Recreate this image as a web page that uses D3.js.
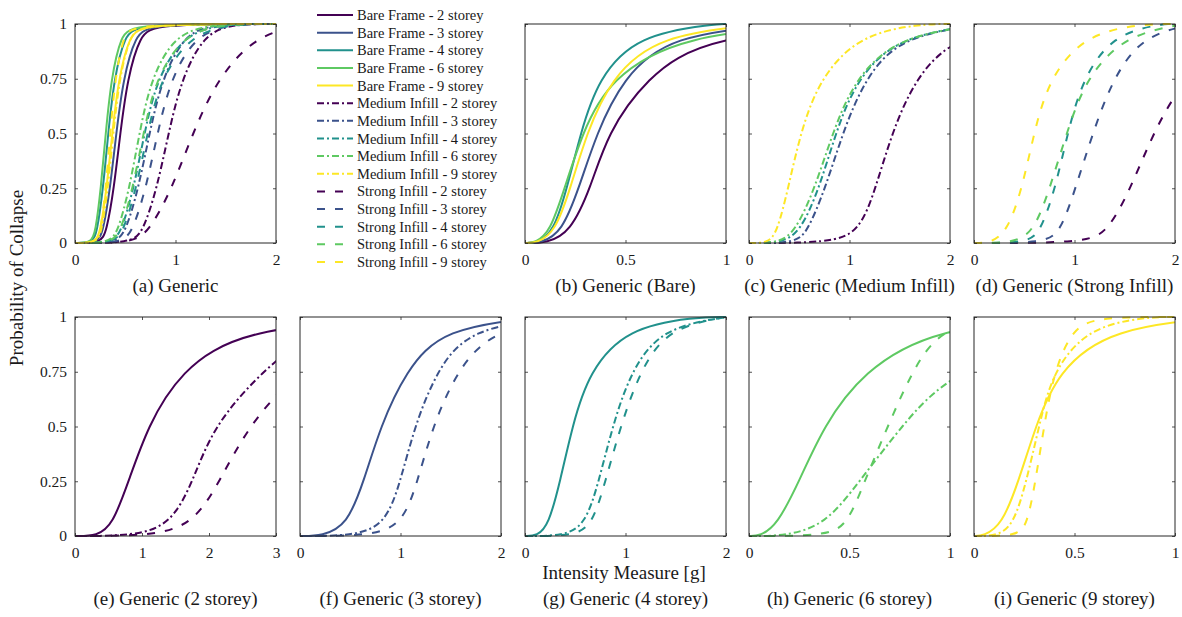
<!DOCTYPE html>
<html>
<head>
<meta charset="utf-8">
<script src="https://cdn.jsdelivr.net/npm/d3@7"></script>
<style>
  body { margin: 0; background: #fff; }
  svg { display: block; }
  text { font-family: "Liberation Serif", "Times New Roman", serif; fill: #1a1a1a; }
</style>
</head>
<body>
<script>
// probability levels at which each curve's x position was read off the figure
// (first = where the curve leaves 0, last = where it reaches 1)
const probLevels = [0, 0.05, 0.25, 0.5, 0.75, 0.95, 1];
const yTicks = [0, 0.25, 0.5, 0.75, 1];

const storeyLabels = ["2", "3", "4", "6", "9"];
const typeNames = ["Bare Frame", "Medium Infill", "Strong Infill"];
const storeyColors = ["#440154", "#3b528b", "#21918c", "#5ec962", "#fde725"];
const typeDash = [null, "7,3,2,3", "8,10"];

// (a) all 15 curves: bare 2..9, medium 2..9, strong 2..9
const curvesA = [
  [0.254, 0.313, 0.388, 0.45, 0.522, 0.646, 0.80],
  [0.224, 0.279, 0.350, 0.41, 0.480, 0.601, 0.75],
  [0.174, 0.220, 0.280, 0.33, 0.389, 0.494, 0.63],
  [0.161, 0.204, 0.258, 0.305, 0.360, 0.457, 0.58],
  [0.202, 0.252, 0.316, 0.37, 0.433, 0.543, 0.68],
  [0.561, 0.675, 0.816, 0.93, 1.060, 1.281, 1.55],
  [0.404, 0.504, 0.632, 0.74, 0.866, 1.086, 1.36],
  [0.364, 0.461, 0.585, 0.69, 0.814, 1.08, 1.45],
  [0.338, 0.427, 0.542, 0.64, 0.755, 0.99, 1.35],
  [0.214, 0.265, 0.328, 0.38, 0.441, 0.546, 0.67],
  [0.561, 0.735, 0.967, 1.17, 1.416, 1.80, 2.3],
  [0.462, 0.571, 0.707, 0.82, 0.951, 1.20, 1.55],
  [0.380, 0.481, 0.610, 0.72, 0.850, 1.15, 1.55],
  [0.359, 0.454, 0.576, 0.68, 0.802, 1.08, 1.45],
  [0.211, 0.254, 0.307, 0.35, 0.399, 0.482, 0.58]
];
// (b) bare frames
const curvesB = [
  [0.11, 0.226, 0.326, 0.41, 0.60, 0.90, 1.8],
  [0.08, 0.184, 0.268, 0.356, 0.485, 0.72, 1.3],
  [0.06, 0.142, 0.209, 0.276, 0.363, 0.56, 0.95],
  [0.05, 0.125, 0.197, 0.284, 0.418, 0.78, 1.5],
  [0.06, 0.15, 0.226, 0.306, 0.426, 0.66, 1.2]
];
// (c) medium infill
const curvesC = [
  [0.80, 1.10, 1.26, 1.42, 1.65, 2.05, 2.9],
  [0.46, 0.58, 0.76, 0.93, 1.15, 1.52, 2.4],
  [0.32, 0.51, 0.70, 0.86, 1.07, 1.50, 2.4],
  [0.29, 0.46, 0.655, 0.83, 1.05, 1.50, 2.4],
  [0.19, 0.28, 0.39, 0.51, 0.70, 1.10, 1.7]
];
// (d) strong infill
const curvesD = [
  [1.10, 1.33, 1.56, 1.78, 2.08, 2.6, 3.2],
  [0.70, 0.86, 1.01, 1.18, 1.38, 1.68, 2.2],
  [0.53, 0.66, 0.81, 0.93, 1.08, 1.38, 1.85],
  [0.39, 0.595, 0.755, 0.92, 1.11, 1.50, 2.1],
  [0.16, 0.33, 0.48, 0.595, 0.745, 1.10, 1.65]
];
// (e)-(i) per storey: bare, medium, strong
const curvesE = [
  [0.33, 0.56, 0.80, 1.085, 1.56, 2.5, 5.0],
  [0.86, 1.43, 1.76, 2.06, 2.78, 3.6, 5.0],
  [1.11, 1.76, 2.16, 2.58, 3.3, 4.4, 5.5]
];
const curvesF = [
  [0.22, 0.47, 0.635, 0.80, 1.05, 1.42, 2.4],
  [0.52, 0.85, 1.0, 1.14, 1.355, 1.68, 2.6],
  [0.69, 1.02, 1.17, 1.32, 1.555, 1.92, 2.8]
];
const curvesG = [
  [0.12, 0.235, 0.35, 0.47, 0.635, 1.02, 1.7],
  [0.38, 0.60, 0.735, 0.87, 1.05, 1.36, 2.0],
  [0.485, 0.67, 0.80, 0.95, 1.14, 1.42, 2.0]
];
const curvesH = [
  [0.055, 0.14, 0.25, 0.37, 0.565, 0.92, 1.6],
  [0.18, 0.38, 0.55, 0.757, 1.0, 1.6, 3.0],
  [0.38, 0.49, 0.575, 0.69, 0.81, 0.95, 1.25]
];
const curvesI = [
  [0.047, 0.139, 0.222, 0.306, 0.415, 0.68, 1.25],
  [0.114, 0.197, 0.261, 0.323, 0.39, 0.565, 0.85],
  [0.214, 0.264, 0.306, 0.348, 0.398, 0.49, 0.62]
];

// series index = type * 5 + storey
const panels = [
  { title: "(a) Generic", col: 0, row: 0, xMax: 2, xTicks: [0, 1, 2], series: d3.range(15), curves: curvesA },
  { title: "(b) Generic (Bare)", col: 2, row: 0, xMax: 1, xTicks: [0, 0.5, 1], series: [0, 1, 2, 3, 4], curves: curvesB },
  { title: "(c) Generic (Medium Infill)", col: 3, row: 0, xMax: 2, xTicks: [0, 1, 2], series: [5, 6, 7, 8, 9], curves: curvesC },
  { title: "(d) Generic (Strong Infill)", col: 4, row: 0, xMax: 2, xTicks: [0, 1, 2], series: [10, 11, 12, 13, 14], curves: curvesD },
  { title: "(e) Generic (2 storey)", col: 0, row: 1, xMax: 3, xTicks: [0, 1, 2, 3], series: [0, 5, 10], curves: curvesE },
  { title: "(f) Generic (3 storey)", col: 1, row: 1, xMax: 2, xTicks: [0, 1, 2], series: [1, 6, 11], curves: curvesF },
  { title: "(g) Generic (4 storey)", col: 2, row: 1, xMax: 2, xTicks: [0, 1, 2], series: [2, 7, 12], curves: curvesG },
  { title: "(h) Generic (6 storey)", col: 3, row: 1, xMax: 1, xTicks: [0, 0.5, 1], series: [3, 8, 13], curves: curvesH },
  { title: "(i) Generic (9 storey)", col: 4, row: 1, xMax: 1, xTicks: [0, 0.5, 1], series: [4, 9, 14], curves: curvesI }
];

const W = 1182, H = 617;
const colX = [75, 300, 525, 749, 974];
const rowY = [24, 317];
const pw = 201, ph = 219;
const axisColor = "#262626";

const svg = d3.select("body").append("svg")
  .attr("width", W).attr("height", H)
  .attr("viewBox", `0 0 ${W} ${H}`);

panels.forEach((p, pi) => {
  const g = svg.append("g")
    .attr("transform", `translate(${colX[p.col]},${rowY[p.row]})`);

  const x = d3.scaleLinear().domain([0, p.xMax]).range([0, pw]);
  const y = d3.scaleLinear().domain([0, 1]).range([ph, 0]);

  const clipId = "clip" + pi;
  g.append("clipPath").attr("id", clipId)
    .append("rect").attr("x", 0).attr("y", -2).attr("width", pw).attr("height", ph + 4);

  // smooth B-spline through the read-off points
  const line = d3.line()
    .x(d => x(d[0]))
    .y(d => y(d[1]))
    .curve(d3.curveBasis);

  const plot = g.append("g").attr("clip-path", `url(#${clipId})`);
  p.curves.forEach((xs, ci) => {
    const s = p.series[ci];
    const pts = [[0, 0]].concat(probLevels.map((lv, i) => [xs[i], lv]));
    if (xs[xs.length - 1] < p.xMax) pts.push([p.xMax, 1]);
    plot.append("path")
      .datum(pts)
      .attr("d", line)
      .attr("fill", "none")
      .attr("stroke", storeyColors[s % 5])
      .attr("stroke-width", 2)
      .attr("stroke-dasharray", typeDash[Math.floor(s / 5)]);
  });

  // axes with inward ticks on all four sides (box on)
  const fmt = d => String(d);
  const bottom = g.append("g").attr("transform", `translate(0,${ph})`)
    .call(d3.axisBottom(x).tickValues(p.xTicks).tickSize(-3).tickPadding(11).tickFormat(fmt));
  const top = g.append("g")
    .call(d3.axisTop(x).tickValues(p.xTicks).tickSize(-3).tickFormat(""));
  const left = g.append("g")
    .call(d3.axisLeft(y).tickValues(yTicks).tickSize(-3).tickPadding(8)
      .tickFormat(p.col === 0 ? fmt : ""));
  const right = g.append("g").attr("transform", `translate(${pw},0)`)
    .call(d3.axisRight(y).tickValues(yTicks).tickSize(-3).tickFormat(""));

  [bottom, top, left, right].forEach(a => {
    a.select(".domain").remove();
    a.selectAll(".tick line").attr("stroke", axisColor).attr("stroke-width", 0.8);
    a.selectAll(".tick text")
      .attr("font-family", '"Liberation Serif", "Times New Roman", serif')
      .attr("font-size", 15.5)
      .attr("fill", axisColor);
  });

  g.append("rect")
    .attr("x", 0).attr("y", 0).attr("width", pw).attr("height", ph)
    .attr("fill", "none").attr("stroke", axisColor).attr("stroke-width", 1);

  svg.append("text")
    .attr("x", colX[p.col] + pw / 2)
    .attr("y", p.row === 0 ? 292 : 605)
    .attr("text-anchor", "middle")
    .attr("font-size", 19)
    .text(p.title);
});

// legend (sits in the empty column of the top row)
const legendRows = d3.range(15);
const legend = svg.append("g");
legendRows.forEach(s => {
  const ly = 15 + s * 17.64;
  legend.append("line")
    .attr("x1", 317).attr("x2", 353).attr("y1", ly).attr("y2", ly)
    .attr("stroke", storeyColors[s % 5])
    .attr("stroke-width", 2)
    .attr("stroke-dasharray", typeDash[Math.floor(s / 5)]);
  legend.append("text")
    .attr("x", 357).attr("y", ly).attr("dy", "0.35em")
    .attr("font-size", 14.5)
    .text(`${typeNames[Math.floor(s / 5)]} - ${storeyLabels[s % 5]} storey`);
});

// shared axis labels
svg.append("text")
  .attr("transform", "translate(23,278) rotate(-90)")
  .attr("text-anchor", "middle")
  .attr("font-size", 19)
  .attr("fill", axisColor)
  .text("Probability of Collapse");

svg.append("text")
  .attr("x", 624).attr("y", 579)
  .attr("text-anchor", "middle")
  .attr("font-size", 19)
  .attr("fill", axisColor)
  .text("Intensity Measure [g]");
</script>
</body>
</html>
